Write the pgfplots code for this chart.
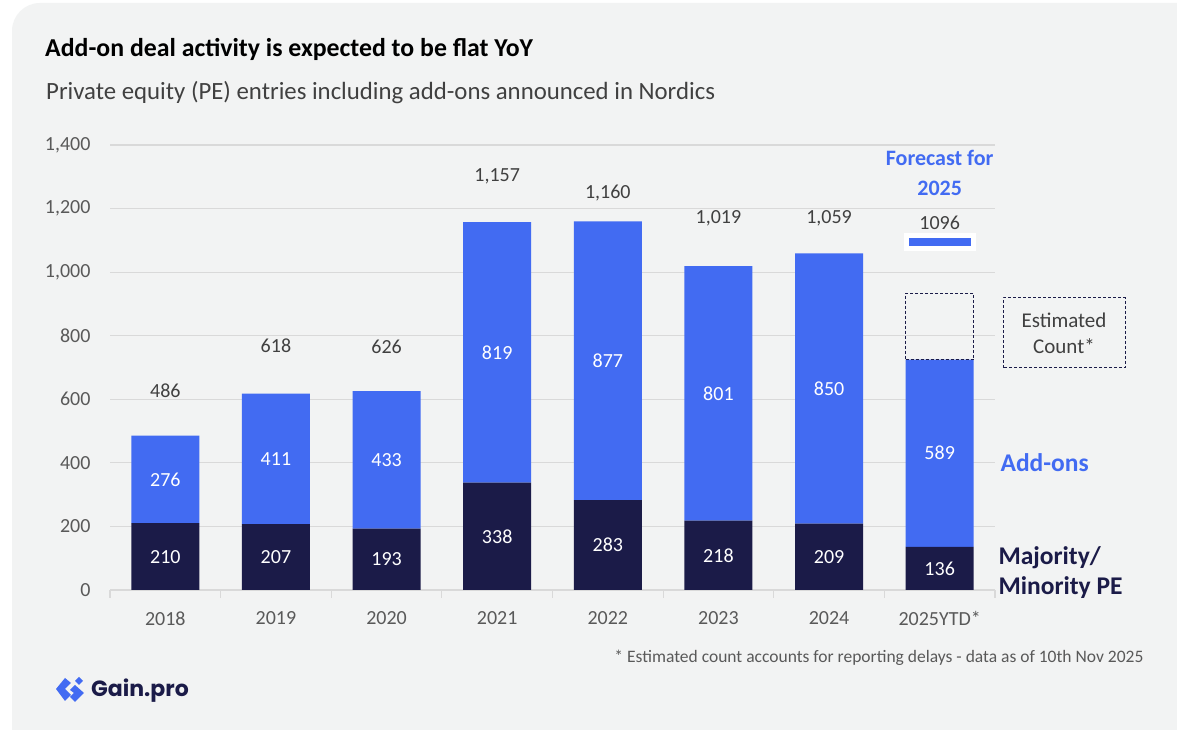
\documentclass[border=0pt]{standalone}
\usepackage{fontspec}
\setmainfont{Carlito}
\newfontfamily\logofont{Poppins}
\usepackage{pgfplots}
\pgfplotsset{compat=1.18}
\usepackage{pgfplotstable}
\definecolor{navy}{RGB}{27,27,72}
\definecolor{addblue}{RGB}{66,107,242}
\definecolor{bg}{RGB}{242,243,243}
\definecolor{gridc}{RGB}{217,217,217}
\definecolor{tickc}{RGB}{89,89,89}
\definecolor{labc}{RGB}{64,64,64}

\pgfplotstableread{
x maj add
0 210 276
1 207 411
2 193 433
3 338 819
4 283 877
5 218 801
6 209 850
7 136 589
}\deals

\pgfplotstableread{
x toty tot
0 626 486
1 768 618
2 764 626
3 1302 1,157
4 1249 1,160
5 1170 1,019
6 1170 1,059
}\totals

\pgfplotsset{base/.style={scale only axis, width=885pt, height=445pt,
  xmin=-0.5, xmax=7.5, ymin=0, ymax=1400, at={(110pt,140pt)}, anchor=south west}}

\begin{document}
\begin{tikzpicture}[x=1pt,y=1pt]
\useasboundingbox (0,0) rectangle (1177,730);
\fill[white] (0,0) rectangle (1177,730);
\begin{scope}
\clip (0,0) rectangle (1177,730);
\fill[bg, rounded corners=28pt] (12,-40) rectangle (1220,727);
\end{scope}

% title
\node[anchor=base west, inner sep=0, font=\bfseries\fontsize{25.8}{25.8}\selectfont] at (45,673) {Add-on deal activity is expected to be flat YoY};
\node[anchor=base west, inner sep=0, text=labc, font=\fontsize{24.8}{24.8}\selectfont] at (46,630) {Private equity (PE) entries including add-ons announced in Nordics};

\begin{axis}[base, ybar stacked, bar width=68pt,
  axis x line*=bottom, axis y line*=left,
  y axis line style={draw=none}, x axis line style={draw=gridc, line width=1.2pt},
  ymajorgrids, grid style={draw=gridc, line width=1.2pt},
  ytick={0,200,...,1400}, xtick={0,...,7},
  xticklabels={2018,2019,2020,2021,2022,2023,2024,2025YTD*},
  minor xtick={-0.5,0.5,...,7.5},
  major tick length=0pt, minor tick length=8pt, tick align=outside,
  minor tick style={draw=gridc, line width=1.2pt},
  /pgf/number format/assume math mode=true,
  yticklabel style={/pgf/number format/1000 sep={,}, text=tickc, font=\fontsize{20}{20}\selectfont, xshift=-16pt},
  xticklabel style={text=tickc, font=\fontsize{20}{20}\selectfont, yshift=-18pt},
]
\addplot[fill=navy, draw=none] table[x=x, y=maj]{\deals};
\addplot[fill=addblue, draw=none] table[x=x, y=add]{\deals};
\end{axis}

% estimated count box
\begin{axis}[base, ybar stacked, bar width=68pt, hide axis]
\addplot[fill=none, draw=none] coordinates {(7,725)};
\addplot[fill=none, draw=navy, dash pattern=on 3pt off 2pt, line width=1pt] coordinates {(7,209)};
\end{axis}

% labels and forecast
\begin{axis}[base, hide axis, clip=false]
\addplot[draw=none, mark=none, nodes near coords, point meta=explicit symbolic,
  every node near coord/.append style={anchor=center, text=white, font=\fontsize{20}{20}\selectfont}]
  table[x=x, y expr=\thisrow{maj}/2, meta=maj]{\deals};
\addplot[draw=none, mark=none, nodes near coords, point meta=explicit symbolic,
  every node near coord/.append style={anchor=center, text=white, font=\fontsize{20}{20}\selectfont}]
  table[x=x, y expr=\thisrow{maj}+\thisrow{add}/2, meta=add]{\deals};
\addplot[draw=none, mark=none, nodes near coords, point meta=explicit symbolic,
  every node near coord/.append style={anchor=center, text=labc, font=\fontsize{20}{20}\selectfont}]
  table[x=x, y=toty, meta=tot]{\totals};
\addplot[only marks, mark=square*, mark size=8.5pt, mark options={fill=white, draw=white, xscale=4.2}] coordinates {(7,1096)};
\addplot[only marks, mark=-, mark size=31pt, mark options={draw=addblue, line width=8pt}] coordinates {(7,1096)};
\node[text=labc, font=\fontsize{20}{20}\selectfont] at (axis cs:7,1154) {1096};
\node[align=center, text=addblue, font=\bfseries\fontsize{22}{30}\selectfont] at (axis cs:7,1312) {Forecast for\\2025};
\end{axis}

% side annotations
\node[anchor=west, text=addblue, font=\bfseries\fontsize{25.5}{25.5}\selectfont] at (997,267) {Add-ons};
\node[anchor=west, align=left, text=navy, font=\bfseries\fontsize{25.5}{30}\selectfont] at (995,157) {Majority/\\Minority PE};
\draw[navy, dash pattern=on 3pt off 2pt, line width=1pt] (1003,362) rectangle (1125,432);
\node[align=center, text=labc, font=\fontsize{21}{26}\selectfont] at (1064,397) {Estimated\\Count*};

% footnote
\node[anchor=east, text=tickc, font=\fontsize{17.5}{17.5}\selectfont] at (1147,72) {* Estimated count accounts for reporting delays - data as of 10th Nov 2025};

% logo
\fill[addblue] (56,41) -- (65,52) -- (71,47) -- (65,41) -- (71,35) -- (65,29) -- cycle;
\fill[addblue] (79,53) -- (83,49) -- (79,45) -- (75,49) -- cycle;
\fill[addblue] (70,40) -- (75,45) -- (84,37) -- (75,28) -- (70,33) -- (74,37) -- cycle;
\node[anchor=west, inner sep=0, text=navy, font=\logofont\bfseries\fontsize{22}{22}\selectfont] at (91,39) {Gain.pro};
\end{tikzpicture}
\end{document}
